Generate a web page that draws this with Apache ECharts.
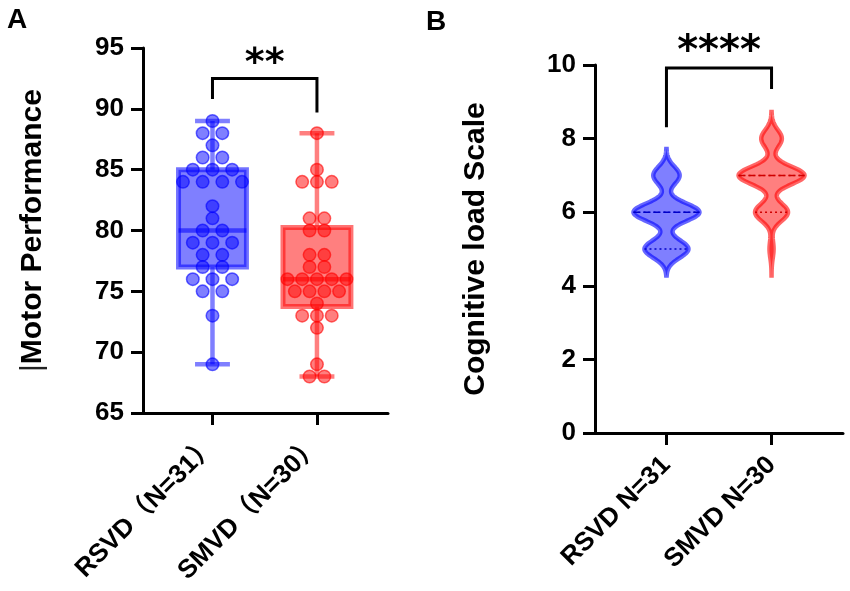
<!DOCTYPE html>
<html>
<head>
<meta charset="utf-8">
<script src="https://cdn.jsdelivr.net/npm/echarts@6/dist/echarts.min.js"></script>
<style>
  html, body { margin: 0; padding: 0; background: #fff; }
  #chart { width: 850px; height: 591px; }
</style>
</head>
<body>
<div id="chart"></div>
<script>
// panel A: motor performance, one value per subject
const motorGroups = ["RSVD（N=31）", "SMVD（N=30）"];
const rsvdMotor = [89, 88, 88, 87, 86, 86, 85, 85, 85, 84, 84, 84, 84, 82, 81, 80, 80,
  79, 79, 79, 78, 78, 77, 77, 76, 76, 76, 75, 75, 73, 69];
const smvdMotor = [88, 85, 84, 84, 84, 81, 81, 80, 80, 78, 78, 77, 77, 76, 76, 76, 76, 76,
  75, 75, 75, 75, 74, 73, 73, 73, 72, 69, 68, 68];

// panel B: cognitive load scale, counts per score
const cogGroups = ["RSVD N=31", "SMVD N=30"];
const cogLevels = [5, 6, 7, 8];
const rsvdCogCounts = [10, 15, 6, 0];
const smvdCogCounts = [1, 8, 16, 5];

// significance brackets: [top, left leg end, right leg end]
const sigLabels = ["**", "****"];
const motorBracket = [92.5, 90.8, 89.7];
const cogBracket = [9.92, 8.31, 9.35];

const FONT = '"Liberation Sans", Arial, "Noto Sans CJK SC", sans-serif';
const BLUE = [0, 0, 255];
const RED = [255, 0, 0];
const rgba = (c, a) => `rgba(${c[0]},${c[1]},${c[2]},${a})`;

// quartiles the way Prism does them: position p*(n+1)
function quart(vals, p) {
  const s = [...vals].sort((a, b) => a - b);
  const pos = p * (s.length + 1);
  const lo = Math.floor(pos);
  if (lo < 1) return s[0];
  if (lo >= s.length) return s[s.length - 1];
  return s[lo - 1] + (pos - lo) * (s[lo] - s[lo - 1]);
}

function expand(levels, counts) {
  const out = [];
  levels.forEach((l, i) => { for (let k = 0; k < counts[i]; k++) out.push(l); });
  return out;
}

// spread equal values sideways in rows
function swarm(vals, center, width) {
  const counts = {};
  vals.forEach((v) => { counts[v] = (counts[v] || 0) + 1; });
  const maxK = Math.max(...Object.values(counts));
  const step = maxK > 1 ? width / (maxK - 1) : 0;
  const pts = [];
  Object.keys(counts).forEach((key) => {
    const k = counts[key];
    for (let i = 0; i < k; i++) pts.push([center + (i - (k - 1) / 2) * step, +key]);
  });
  return pts;
}

function kde(levels, counts, h) {
  const used = levels.filter((l, i) => counts[i] > 0);
  const lo = Math.min(...used) - 3 * h;
  const hi = Math.max(...used) + 3 * h;
  const dens = (y) => {
    let d = 0;
    levels.forEach((l, j) => { d += counts[j] * Math.exp(-0.5 * ((y - l) / h) ** 2); });
    return d;
  };
  const pts = [];
  for (let i = 0; i <= 160; i++) {
    const y = lo + (hi - lo) * i / 160;
    pts.push([y, dens(y)]);
  }
  const maxD = Math.max(...pts.map((p) => p[1]));
  return { pts: pts.map((p) => [p[0], p[1] / maxD]), at: (y) => dens(y) / maxD };
}

const motorSets = [rsvdMotor, smvdMotor];
const motorColors = [BLUE, RED];
const boxData = motorSets.map((v, i) => [i + 1, Math.min(...v), quart(v, 0.25), quart(v, 0.5), quart(v, 0.75), Math.max(...v)]);

function renderBox(params, api) {
  const c = motorColors[params.dataIndex];
  const x = api.value(0);
  const bw = 0.325, cw = 0.167;
  const pMin = api.coord([x, api.value(1)]);
  const pQ1 = api.coord([x, api.value(2)]);
  const pQ3 = api.coord([x, api.value(4)]);
  const pMax = api.coord([x, api.value(5)]);
  const a = api.coord([x - bw, api.value(4)]);
  const b = api.coord([x + bw, api.value(2)]);
  const m1 = api.coord([x - bw, api.value(3)]);
  const m2 = api.coord([x + bw, api.value(3)]);
  const c1 = api.coord([x - cw, 0])[0], c2 = api.coord([x + cw, 0])[0];
  const line = { stroke: rgba(c, 0.5), lineWidth: 4.5 };
  return {
    type: 'group',
    children: [
      { type: 'line', shape: { x1: pMin[0], y1: pMin[1], x2: pQ1[0], y2: pQ1[1] }, style: line },
      { type: 'line', shape: { x1: pQ3[0], y1: pQ3[1], x2: pMax[0], y2: pMax[1] }, style: line },
      { type: 'line', shape: { x1: c1, y1: pMin[1], x2: c2, y2: pMin[1] }, style: line },
      { type: 'line', shape: { x1: c1, y1: pMax[1], x2: c2, y2: pMax[1] }, style: line },
      { type: 'rect', shape: { x: a[0], y: a[1], width: b[0] - a[0], height: b[1] - a[1] },
        style: { fill: rgba(c, 0.5), stroke: rgba(c, 0.55), lineWidth: 5 } },
      { type: 'line', shape: { x1: m1[0], y1: m1[1], x2: m2[0], y2: m2[1] },
        style: { stroke: rgba(c, 0.55), lineWidth: 4.5 } }
    ]
  };
}

const cogCounts = [rsvdCogCounts, smvdCogCounts];
const cogColors = [BLUE, RED];
const cogDark = ['#0000c8', '#d00000'];

function renderViolin(params, api) {
  const i = params.dataIndex;
  const c = cogColors[i];
  const x = api.value(0);
  const half = 0.314;
  const k = kde(cogLevels, cogCounts[i], 0.24);
  const right = k.pts.map((p) => api.coord([x + p[1] * half, p[0]]));
  const left = k.pts.slice().reverse().map((p) => api.coord([x - p[1] * half, p[0]]));
  const vals = expand(cogLevels, cogCounts[i]);
  const marks = [[quart(vals, 0.25), [2, 3]], [quart(vals, 0.75), [2, 3]], [quart(vals, 0.5), [6, 4]]];
  const children = [{
    type: 'polygon', shape: { points: right.concat(left) },
    style: { fill: rgba(c, 0.5), stroke: rgba(c, 0.6), lineWidth: 4.5 }
  }];
  marks.forEach(([q, dash]) => {
    const w = k.at(q) * half;
    const p1 = api.coord([x - w, q]), p2 = api.coord([x + w, q]);
    children.push({ type: 'line', shape: { x1: p1[0], y1: p1[1], x2: p2[0], y2: p2[1] },
      style: { stroke: cogDark[i], lineWidth: 1.5, lineDash: dash } });
  });
  return { type: 'group', children };
}

function bracketRenderer(label, size, gap) {
  return function (params, api) {
    const x1 = api.value(0), x2 = api.value(1);
    const tl = api.coord([x1, api.value(2)]), tr = api.coord([x2, api.value(2)]);
    const l = api.coord([x1, api.value(3)]), r = api.coord([x2, api.value(4)]);
    return {
      type: 'group',
      children: [
        { type: 'polyline', shape: { points: [l, tl, tr, r] },
          style: { stroke: '#000', lineWidth: 3, fill: null } },
        { type: 'text', style: { text: label, x: (tl[0] + tr[0]) / 2, y: tl[1] - gap,
          align: 'center', verticalAlign: 'middle', fontSize: size, fontWeight: 'bold',
          fontFamily: '"DejaVu Sans", sans-serif', fill: '#000' } }
      ]
    };
  };
}

function valueY(gridIndex, min, max, interval, name, nameGap) {
  return {
    type: 'value', gridIndex, min, max, interval,
    name, nameLocation: 'middle', nameGap, nameRotate: 90,
    nameTextStyle: { color: '#000', fontSize: 30, fontWeight: 'bold', fontFamily: FONT,
      rich: { bar: { fontSize: 30, fontWeight: 'normal', color: '#222', fontFamily: FONT } } },
    axisLine: { show: true, lineStyle: { color: '#000', width: 3 } },
    axisTick: { show: true, length: 12, lineStyle: { color: '#000', width: 3 } },
    axisLabel: { color: '#000', fontSize: 26, fontWeight: 'bold', fontFamily: FONT, margin: 19 },
    splitLine: { show: false }
  };
}

function groupX(gridIndex, min, max, labels) {
  return {
    type: 'value', gridIndex, min, max,
    axisLine: { show: true, onZero: false, lineStyle: { color: '#000', width: 3 } },
    axisTick: { show: true, length: 12, customValues: [1, 2], lineStyle: { color: '#000', width: 3 } },
    axisLabel: { customValues: [1, 2], rotate: 45, margin: 28, color: '#000', fontSize: 26,
      fontWeight: 'bold', fontFamily: FONT, formatter: (v) => labels[Math.round(v) - 1] },
    splitLine: { show: false }
  };
}

const chart = echarts.init(document.getElementById('chart'));
chart.setOption({
  animation: false,
  backgroundColor: '#fff',
  grid: [
    { left: 143, top: 48, width: 245, height: 365 },
    { left: 595, top: 65, width: 248, height: 368 }
  ],
  xAxis: [groupX(0, 0.335, 2.68, motorGroups), groupX(1, 0.32, 2.68, cogGroups)],
  yAxis: [
    valueY(0, 65, 95, 5, '{bar||}Motor Performance', 95),
    valueY(1, 0, 10, 2, 'Cognitive load Scale', 104)
  ],
  graphic: [
    { type: 'text', left: 7, top: 6, style: { text: 'A', fontSize: 28, fontWeight: 'bold', fontFamily: FONT, fill: '#000' } },
    { type: 'text', left: 426, top: 8, style: { text: 'B', fontSize: 28, fontWeight: 'bold', fontFamily: FONT, fill: '#000' } }
  ],
  series: [
    { type: 'custom', xAxisIndex: 0, yAxisIndex: 0, renderItem: renderBox, data: boxData, z: 1,
      encode: { x: 0, y: [1, 2, 3, 4, 5] } },
    ...motorSets.map((v, i) => ({
      type: 'scatter', xAxisIndex: 0, yAxisIndex: 0, z: 3,
      data: swarm(v, i + 1, 0.565), symbolSize: 12.5,
      itemStyle: { color: rgba(motorColors[i], 0.5), borderColor: rgba(motorColors[i], 0.6), borderWidth: 1.5, opacity: 1 }
    })),
    { type: 'custom', xAxisIndex: 0, yAxisIndex: 0, renderItem: bracketRenderer(sigLabels[0], 38, 14),
      data: [[1, 2, ...motorBracket]], encode: { x: [0, 1], y: [2, 3, 4] }, z: 4 },
    { type: 'custom', xAxisIndex: 1, yAxisIndex: 1, renderItem: renderViolin,
      data: [[1, 6], [2, 7]], encode: { x: 0, y: 1 }, z: 1 },
    { type: 'custom', xAxisIndex: 1, yAxisIndex: 1, renderItem: bracketRenderer(sigLabels[1], 40, 15),
      data: [[1, 2, ...cogBracket]], encode: { x: [0, 1], y: [2, 3, 4] }, z: 4 }
  ]
});
</script>
</body>
</html>
